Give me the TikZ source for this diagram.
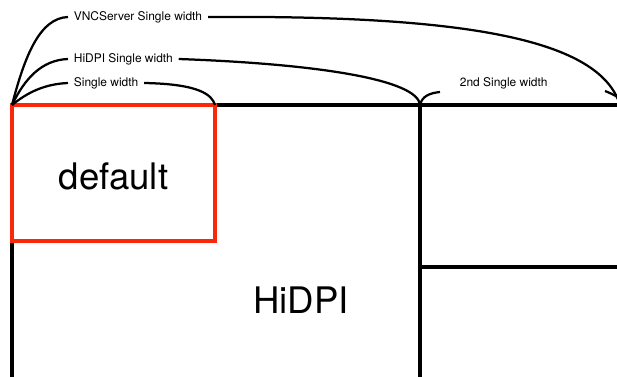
\documentclass[tikz,border=0pt]{standalone}
\usepackage{fontspec}
\setmainfont{TeX Gyre Heros}
\usepackage{xcolor}
\usepackage{tikz}
\definecolor{redframe}{RGB}{250,40,10}

\begin{document}
\begin{tikzpicture}[x=0.025cm, y=-0.025cm, lbl/.style={font=\fontsize{8.5}{10}\selectfont, inner xsep=4pt, inner ysep=0pt}, big/.style={font=\fontsize{26}{30}\selectfont}, brace/.style={line width=1.6pt}, frame/.style={line width=2.4pt}]
\useasboundingbox (0,0) rectangle (617,376);
\clip (0,0) rectangle (617,376);

\coordinate(o) at (12,105);
\coordinate(d) at (215,105);
\coordinate(m) at (420,105);
\coordinate(tr) at (625,105);
\coordinate(r) at (632,110);
\coordinate(bl) at (12,385);
\coordinate(bm) at (420,385);
\coordinate(ml) at (420,267);
\coordinate(mr) at (625,267);
\coordinate(secl) at (440,92);
\coordinate(secr) at (605,91);

\node(vnc)[lbl, anchor=west] at (68,17) {VNCServer Single width};
\node(hidpiw)[lbl, anchor=west] at (68,59) {HiDPI Single width};
\node(single)[lbl, anchor=west] at (68,83) {Single width};
\node(second)[lbl, anchor=west] at (454,83) {2nd Single width};

\draw[frame] (o) -- (tr);
\draw[frame] (o) -- (bl);
\draw[frame] (m) -- (bm);
\draw[frame] (ml) -- (mr);

\node(default)[draw=redframe, line width=2.4pt, minimum width=5.075cm, minimum height=3.4cm, big, text height=24pt, text depth=0pt] at (113.5,173) {default};
\node(hidpi)[big] at (301,300) {HiDPI};

\draw[brace] (o) .. controls (25,55) and (40,18) .. (vnc.west);
\draw[brace] (vnc.east) .. controls (470,15) and (600,40) .. (620,105);
\draw[brace] (o) .. controls (25,78) and (42,60) .. (hidpiw.west);
\draw[brace] (hidpiw.east) .. controls (320,64) and (418,80) .. (m);
\draw[brace] (o) .. controls (28,92) and (45,84) .. (single.west);
\draw[brace] (single.east) .. controls (200,84) and (212,95) .. (d);
\draw[brace] (m) .. controls (422,96) and (430,93) .. (secl);
\draw[brace] (secr) .. controls (615,95) and (625,100) .. (r);
\end{tikzpicture}
\end{document}
